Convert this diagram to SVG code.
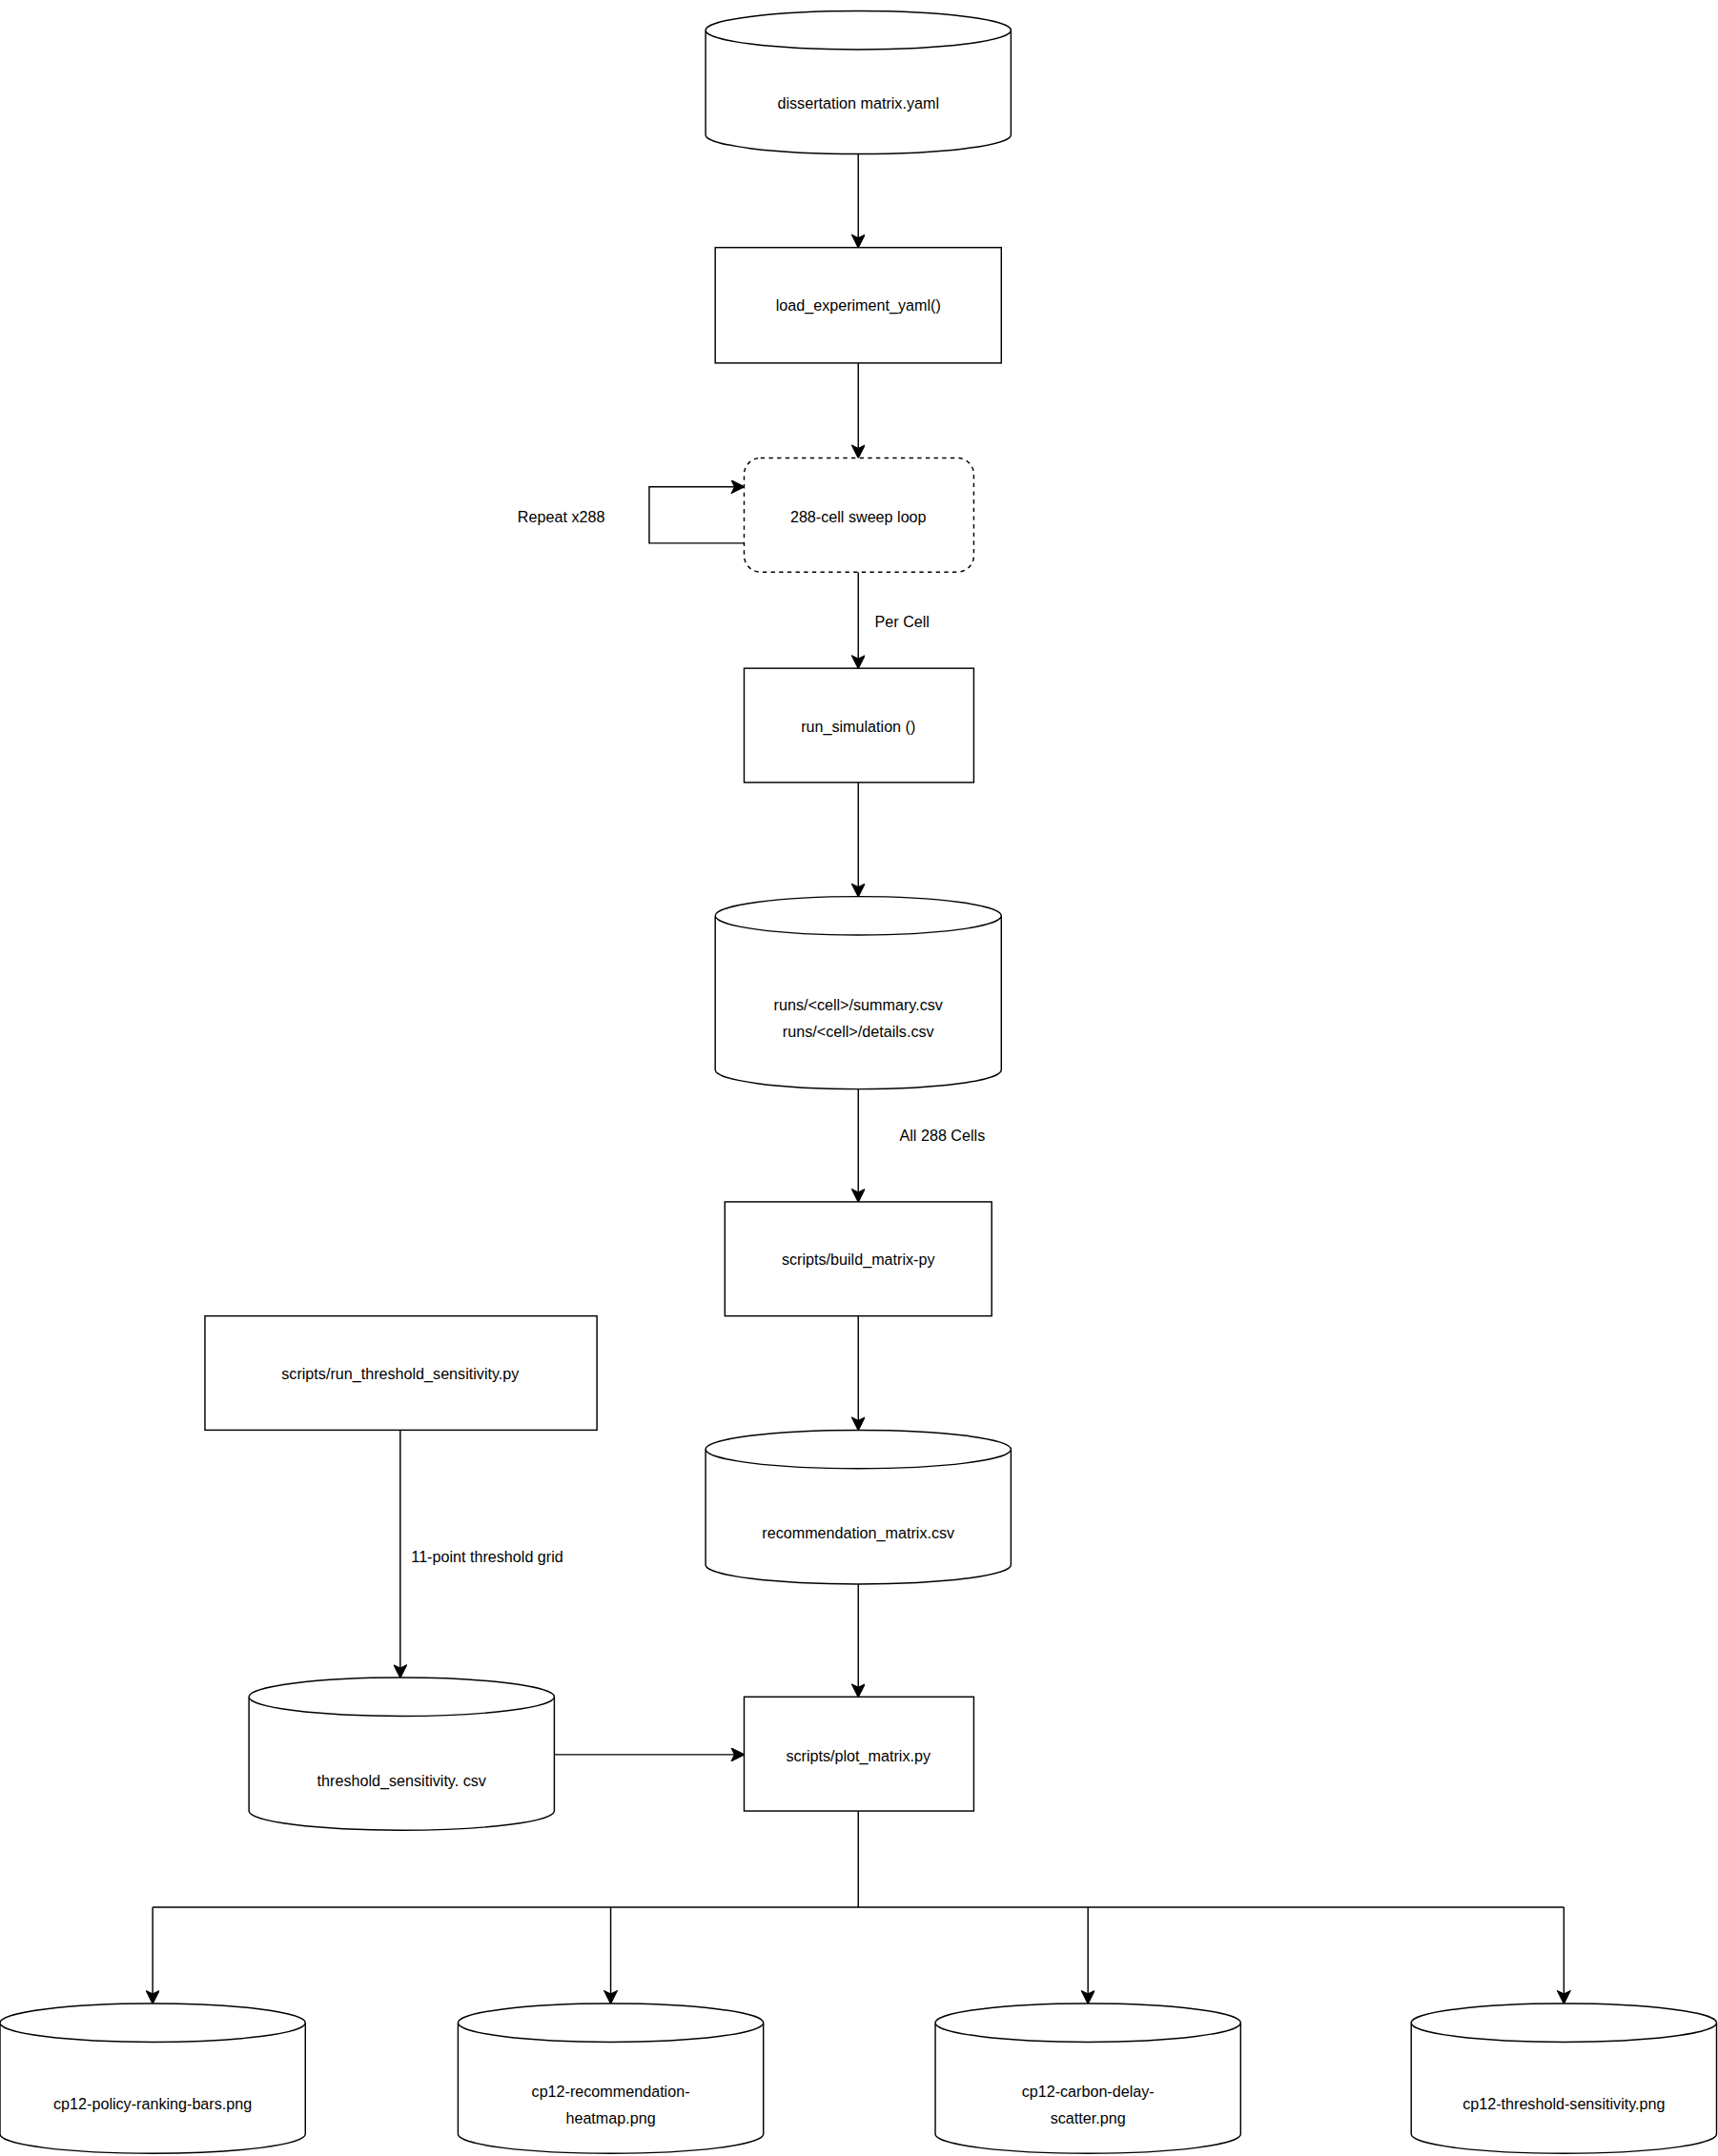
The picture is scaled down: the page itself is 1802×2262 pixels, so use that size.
<svg xmlns="http://www.w3.org/2000/svg" width="1802" height="2262" viewBox="0 0 1802 2262">
<defs>
<marker id="ah" markerUnits="userSpaceOnUse" viewBox="-1 -5 11 10" markerWidth="11" markerHeight="10" refX="9" refY="0" orient="auto"><path d="M0,-4.5 L9,0 L0,4.5 L2.2,0 z" fill="#000" stroke="#000" stroke-width="1"/></marker>
</defs>
<style>
.s{fill:#fff;stroke:#000;stroke-width:1}
.c{fill:none;stroke:#000;stroke-width:1}
text{font-family:"Liberation Sans",Arial,sans-serif;font-size:11.2px;fill:#000}
.m{text-anchor:middle}
</style>
<rect width="1802" height="2262" fill="#fff"/>
<g transform="scale(1.4427)">
<g id="connectors" class="c">
<path d="M624,112 V180" marker-end="url(#ah)"/>
<path d="M624,264 V333" marker-end="url(#ah)"/>
<path d="M541,395 H472 V354 H541" marker-end="url(#ah)"/>
<path d="M624,416 V486" marker-end="url(#ah)"/>
<path d="M624,569 V652" marker-end="url(#ah)"/>
<path d="M624,792 V874" marker-end="url(#ah)"/>
<path d="M624,957 V1040" marker-end="url(#ah)"/>
<path d="M624,1152 V1234" marker-end="url(#ah)"/>
<path d="M291,1040 V1220" marker-end="url(#ah)"/>
<path d="M403,1276 H541" marker-end="url(#ah)"/>
<path d="M624,1317 V1387 M111,1387 H1137"/>
<path d="M111,1387 V1457" marker-end="url(#ah)"/>
<path d="M444,1387 V1457" marker-end="url(#ah)"/>
<path d="M791,1387 V1457" marker-end="url(#ah)"/>
<path d="M1137,1387 V1457" marker-end="url(#ah)"/>
</g>
<g id="labels">
<text x="408" y="380" class="m">Repeat x288</text>
<text x="636" y="456">Per Cell</text>
<text x="654" y="830">All 288 Cells</text>
<text x="299" y="1136">11-point threshold grid</text>
</g>
<g id="n1"><path class="s" d="M513,22 a111,14 0 0 1 222,0 v76 a111,14 0 0 1 -222,0 z M513,22 a111,14 0 0 0 222,0"/><text x="624" y="79" class="m">dissertation matrix.yaml</text></g>
<g id="n2"><rect class="s" x="520" y="180" width="208" height="84"/><text x="624" y="226" class="m">load_experiment_yaml()</text></g>
<g id="n3"><rect class="s" x="541" y="333" width="167" height="83" rx="12" stroke-dasharray="3,3"/><text x="624" y="380" class="m">288-cell sweep loop</text></g>
<g id="n4"><rect class="s" x="541" y="486" width="167" height="83"/><text x="624" y="532" class="m">run_simulation ()</text></g>
<g id="n5"><path class="s" d="M520,666 a104,14 0 0 1 208,0 v112 a104,14 0 0 1 -208,0 z M520,666 a104,14 0 0 0 208,0"/><text x="624" y="735" class="m">runs/&lt;cell&gt;/summary.csv</text><text x="624" y="754" class="m">runs/&lt;cell&gt;/details.csv</text></g>
<g id="n6"><rect class="s" x="527" y="874" width="194" height="83"/><text x="624" y="920" class="m">scripts/build_matrix-py</text></g>
<g id="n7"><path class="s" d="M513,1054 a111,14 0 0 1 222,0 v84 a111,14 0 0 1 -222,0 z M513,1054 a111,14 0 0 0 222,0"/><text x="624" y="1119" class="m">recommendation_matrix.csv</text></g>
<g id="n8"><rect class="s" x="541" y="1234" width="167" height="83"/><text x="624" y="1281" class="m">scripts/plot_matrix.py</text></g>
<g id="n9"><rect class="s" x="149" y="957" width="285" height="83"/><text x="291" y="1003" class="m">scripts/run_threshold_sensitivity.py</text></g>
<g id="n10"><path class="s" d="M181,1234 a111,14 0 0 1 222,0 v83 a111,14 0 0 1 -222,0 z M181,1234 a111,14 0 0 0 222,0"/><text x="292" y="1299" class="m">threshold_sensitivity. csv</text></g>
<g id="n11"><path class="s" d="M0,1471 a111,14 0 0 1 222,0 v81 a111,14 0 0 1 -222,0 z M0,1471 a111,14 0 0 0 222,0"/><text x="111" y="1534" class="m">cp12-policy-ranking-bars.png</text></g>
<g id="n12"><path class="s" d="M333,1471 a111,14 0 0 1 222,0 v81 a111,14 0 0 1 -222,0 z M333,1471 a111,14 0 0 0 222,0"/><text x="444" y="1525" class="m">cp12-recommendation-</text><text x="444" y="1544" class="m">heatmap.png</text></g>
<g id="n13"><path class="s" d="M680,1471 a111,14 0 0 1 222,0 v81 a111,14 0 0 1 -222,0 z M680,1471 a111,14 0 0 0 222,0"/><text x="791" y="1525" class="m">cp12-carbon-delay-</text><text x="791" y="1544" class="m">scatter.png</text></g>
<g id="n14"><path class="s" d="M1026,1471 a111,14 0 0 1 222,0 v81 a111,14 0 0 1 -222,0 z M1026,1471 a111,14 0 0 0 222,0"/><text x="1137" y="1534" class="m">cp12-threshold-sensitivity.png</text></g>
</g>
</svg>
